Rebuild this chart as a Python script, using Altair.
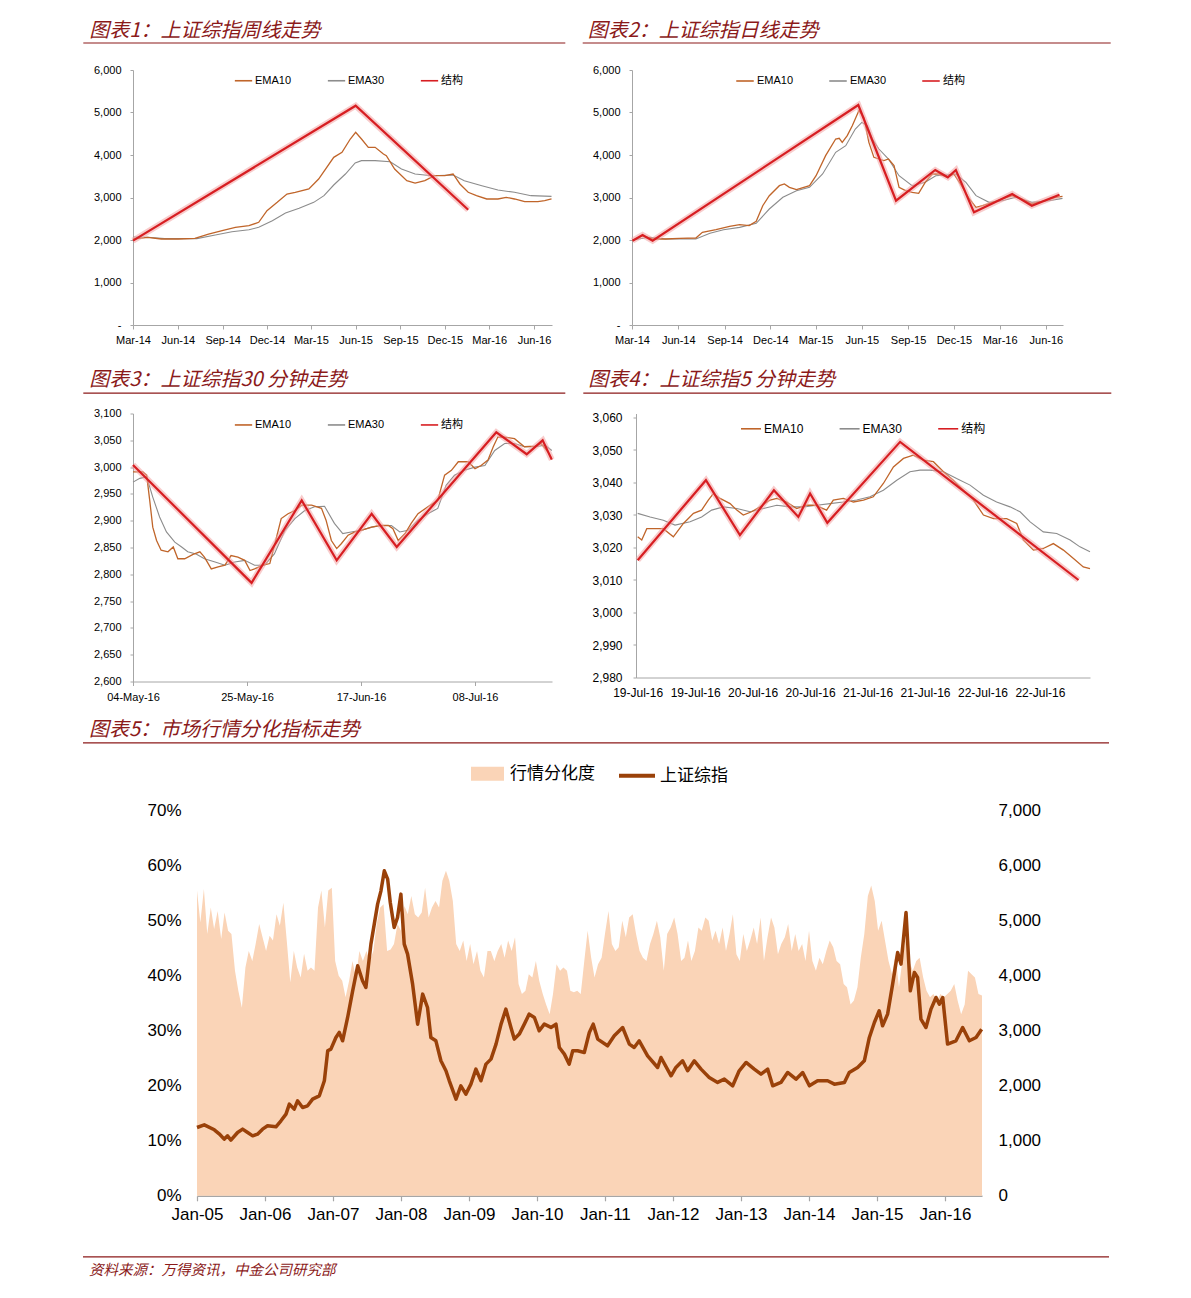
import altair as alt
import pandas as pd

FONT = "Liberation Sans, Arial, 'Noto Sans CJK SC', sans-serif"
CJK = "'Noto Sans CJK SC', sans-serif"
TITLE_COLOR = "#8B1A1A"
C_EMA10 = "#C0652A"
C_EMA30 = "#8C8C8C"
C_STRUCT = "#D71E22"
AX = "#A6A6A6"
SERIES = ["EMA10", "EMA30", "结构"]

titles = ["图表1：上证综指周线走势", "图表2：上证综指日线走势", "图表3：上证综指30 分钟走势",
          "图表4：上证综指5 分钟走势", "图表5：市场行情分化指标走势"]
source_text = "资料来源：万得资讯，中金公司研究部"

# ---------------- Panel 1 (weekly) ----------------
p1_e10_d = ["2014-03-01", "2014-03-31", "2014-04-28", "2014-06-02", "2014-07-06", "2014-08-03", "2014-08-31",
            "2014-09-27", "2014-10-25", "2014-11-14", "2014-12-01", "2014-12-22", "2015-01-11", "2015-01-28",
            "2015-02-25", "2015-03-17", "2015-04-17", "2015-05-04", "2015-05-21", "2015-06-01", "2015-06-13",
            "2015-06-27", "2015-07-11", "2015-07-28", "2015-08-03", "2015-08-20", "2015-09-14", "2015-10-01",
            "2015-10-21", "2015-11-10", "2015-12-01", "2015-12-18", "2016-01-01", "2016-01-18", "2016-02-04",
            "2016-02-25", "2016-03-19", "2016-04-05", "2016-04-22", "2016-05-13", "2016-06-09", "2016-06-23",
            "2016-07-07"]
p1_e10_v = [2024, 2063, 2024, 2024, 2040, 2141, 2220, 2298, 2337, 2416, 2690, 2886, 3082, 3122, 3200, 3435, 3945,
            4063, 4376, 4533, 4376, 4180, 4180, 4024, 3985, 3671, 3396, 3341, 3396, 3513, 3513, 3553, 3318, 3122,
            3043, 2965, 2965, 3004, 2965, 2902, 2902, 2925, 2965]
p1_e30_d = ["2014-03-01", "2014-03-31", "2014-05-05", "2014-06-09", "2014-07-10", "2014-08-17", "2014-09-20",
            "2014-10-25", "2014-11-14", "2014-12-12", "2015-01-08", "2015-02-05", "2015-03-07", "2015-03-28",
            "2015-04-17", "2015-05-11", "2015-05-31", "2015-06-13", "2015-07-11", "2015-08-11", "2015-09-03",
            "2015-10-01", "2015-11-04", "2015-12-18", "2016-01-10", "2016-02-15", "2016-03-19", "2016-04-22",
            "2016-05-26", "2016-07-07"]
p1_e30_v = [2071, 2063, 2032, 2032, 2032, 2118, 2196, 2243, 2298, 2455, 2635, 2745, 2886, 3043, 3294, 3553, 3812,
            3867, 3867, 3843, 3671, 3553, 3513, 3529, 3396, 3278, 3176, 3122, 3043, 3027]
p1_st_d = ["2014-03-01", "2015-06-01", "2016-01-18"]
p1_st_v = [1984, 5160, 2713]

# ---------------- Panel 2 (daily) ----------------
p2_e10_d = ["2014-03-02", "2014-03-22", "2014-04-11", "2014-05-07", "2014-06-03", "2014-07-06", "2014-07-19",
            "2014-08-15", "2014-09-11", "2014-10-01", "2014-10-20", "2014-11-03", "2014-11-16", "2014-11-29",
            "2014-12-19", "2014-12-29", "2015-01-08", "2015-01-22", "2015-02-17", "2015-03-02", "2015-03-21",
            "2015-04-10", "2015-04-17", "2015-04-23", "2015-05-03", "2015-05-13", "2015-05-26", "2015-06-05",
            "2015-06-15", "2015-06-25", "2015-07-05", "2015-07-15", "2015-07-24", "2015-08-04", "2015-08-14",
            "2015-08-27", "2015-09-09", "2015-09-22", "2015-10-05", "2015-10-19", "2015-11-01", "2015-11-18",
            "2015-12-01", "2015-12-14", "2016-01-01", "2016-01-14", "2016-01-27", "2016-02-16", "2016-03-06",
            "2016-03-26", "2016-04-15", "2016-05-04", "2016-05-31", "2016-06-20", "2016-07-04"]
p2_e10_v = [1984, 2102, 2024, 2024, 2040, 2047, 2180, 2243, 2322, 2361, 2337, 2439, 2807, 3043, 3278, 3318,
            3239, 3184, 3278, 3513, 3984, 4376, 4392, 4298, 4455, 4690, 5043, 4886, 4298, 3945, 3906, 3867, 3906,
            3749, 3239, 3161, 3122, 3098, 3357, 3553, 3553, 3475, 3553, 3318,
            2965, 2769, 2808, 2886, 2965, 3043, 2965, 2847, 2925, 3004, 3027]
p2_e30_d = ["2014-03-02", "2014-04-04", "2014-05-07", "2014-06-10", "2014-07-06", "2014-08-03", "2014-08-30",
            "2014-10-01", "2014-11-03", "2014-11-29", "2014-12-26", "2015-01-22", "2015-02-17", "2015-03-15",
            "2015-04-10", "2015-04-30", "2015-05-19", "2015-06-01", "2015-06-12", "2015-06-22", "2015-07-05",
            "2015-07-24", "2015-08-14", "2015-09-09", "2015-10-05", "2015-10-26", "2015-11-15", "2015-12-05",
            "2015-12-25", "2016-01-14", "2016-02-09", "2016-03-06", "2016-04-02", "2016-05-04", "2016-06-07",
            "2016-07-04"]
p2_e30_v = [2000, 2063, 2024, 2024, 2024, 2157, 2243, 2298, 2392, 2729, 3004, 3161, 3239, 3553, 4063, 4220, 4612,
            4768, 4690, 4376, 4141, 3906, 3513, 3278, 3357, 3513, 3529, 3553, 3357, 3043, 2886, 2925, 3004, 2886,
            2925, 2980]
p2_st_d = ["2014-03-02", "2014-03-22", "2014-04-11", "2015-05-25", "2015-08-08", "2015-10-25", "2015-11-19",
           "2015-12-05", "2016-01-10", "2016-03-26", "2016-05-04", "2016-06-28"]
p2_st_v = [1984, 2118, 1984, 5176, 2925, 3647, 3475, 3647, 2651, 3082, 2808, 3066]

# ---------------- Panel 3 (30-minute, x = trading day number) ----------------
p3_labels = ["04-May-16", "25-May-16", "17-Jun-16", "08-Jul-16"]
p3_st_d = [0, 15.6, 22.2, 26.8, 31.4, 34.7, 47.8, 51.8, 53.9, 55.1]
p3_st_v = [3004, 2784, 2938, 2826, 2913, 2851, 3065, 3024, 3050, 3014]
p3_e10_d = [0, 1.3, 1.8, 2.2, 2.6, 3.1, 3.7, 4.6, 5.3, 5.9, 6.8, 7.9, 8.8, 9.4, 10.3, 11.2, 12.1, 12.9, 13.8, 14.7,
            15.4, 16.0, 17.1, 18.0, 18.9, 19.5, 20.4, 21.3, 22.2, 23.5, 24.8, 25.4, 26.1, 26.8, 27.4, 28.3, 29.2,
            30.0, 31.4, 32.5, 33.6, 34.2, 34.9, 35.8, 36.6, 37.5, 38.8, 40.1, 41.0, 41.9, 42.8, 44.1, 45.0, 45.8,
            46.7, 47.4, 48.0, 48.9, 50.2, 51.5, 52.9, 53.7, 54.6, 55.1]
p3_e10_v = [2991, 2991, 2985, 2938, 2888, 2863, 2845, 2842, 2851, 2829, 2829, 2837, 2842, 2832, 2810, 2814, 2817,
            2835, 2832, 2826, 2807, 2810, 2817, 2820, 2870, 2904, 2913, 2919, 2929, 2929, 2923, 2901, 2863, 2848,
            2857, 2873, 2879, 2882, 2888, 2891, 2891, 2885, 2863, 2876, 2895, 2913, 2926, 2938, 2985, 2994, 3010,
            3010, 2997, 3003, 3013, 3038, 3056, 3056, 3053, 3038, 3039, 3044, 3028, 3016]
p3_e30_d = [0, 0.9, 1.8, 2.6, 3.5, 4.4, 5.5, 6.4, 7.2, 8.3, 9.4, 10.8, 12.1, 13.4, 14.7, 16.0, 17.3, 18.6, 20.0,
            21.3, 22.6, 23.9, 25.2, 26.5, 27.6, 28.7, 30.0, 31.4, 32.7, 34.0, 35.1, 36.2, 37.5, 38.8, 40.1, 41.2,
            42.3, 43.6, 45.0, 46.3, 47.6, 48.9, 50.2, 51.5, 52.9, 54.2, 55.1]
p3_e30_v = [2972, 2979, 2982, 2944, 2907, 2879, 2860, 2851, 2842, 2838, 2829, 2823, 2817, 2823, 2826, 2817, 2817,
            2838, 2882, 2904, 2919, 2926, 2927, 2895, 2876, 2879, 2882, 2888, 2891, 2891, 2879, 2882, 2901, 2913,
            2923, 2966, 2985, 2994, 3000, 3003, 3031, 3044, 3044, 3038, 3038, 3041, 3031]

# ---------------- Panel 4 (5-minute, x = bar number) ----------------
p4_st_b = [0, 28.5, 42.7, 56.9, 67.1, 72.0, 79.2, 109.6, 184.1]
p4_st_v = [3016.1, 3040.7, 3023.8, 3037.6, 3029.4, 3036.6, 3027.6, 3052.5, 3010.0]
p4_e10_b = [0, 1.7, 3.8, 7.2, 10.7, 14.9, 19.1, 23.3, 26.7, 29.5, 31.6, 34.4, 38.6, 41.4, 44.1, 47.6, 51.1, 55.3,
            58.1, 62.2, 66.4, 70.6, 74.1, 78.9, 81.7, 85.9, 90.1, 94.3, 98.4, 102.6, 106.8, 111.0, 115.1, 119.3,
            123.5, 127.7, 131.8, 136.0, 140.2, 144.4, 148.6, 154.1, 158.3, 161.1, 165.3, 169.4, 173.6, 177.8,
            182.0, 186.1, 188.9]
p4_e10_v = [3023.3, 3022.3, 3025.8, 3025.8, 3025.8, 3023.3, 3027.4, 3030.5, 3031.5, 3034.6, 3036.6, 3035.1,
            3033.5, 3031.5, 3030.0, 3031.0, 3032.5, 3034.6, 3035.1, 3034.0, 3032.0, 3033.0, 3033.0, 3031.5,
            3034.6, 3035.1, 3034.0, 3034.6, 3035.6, 3039.7, 3044.8, 3047.4, 3048.4, 3046.9, 3046.4, 3043.3,
            3040.7, 3037.6, 3034.6, 3030.0, 3028.9, 3028.9, 3027.4, 3022.3, 3019.2, 3019.7, 3021.2, 3019.2,
            3016.6, 3014.0, 3013.5]
p4_e30_b = [0, 5.2, 10.7, 15.6, 21.9, 26.7, 30.9, 35.8, 41.4, 46.9, 52.5, 58.1, 63.6, 69.2, 74.8, 80.3, 85.9,
            91.5, 97.0, 102.6, 108.2, 113.7, 117.9, 122.1, 127.7, 133.2, 138.8, 144.4, 149.9, 155.5, 159.7, 163.9,
            169.4, 175.0, 180.6, 184.7, 188.9]
p4_e30_v = [3030.5, 3029.4, 3028.4, 3026.9, 3027.9, 3029.4, 3031.5, 3032.5, 3032.0, 3031.0, 3032.0, 3033.0,
            3032.5, 3032.5, 3033.0, 3033.5, 3034.0, 3034.6, 3035.6, 3037.6, 3040.7, 3043.3, 3043.8, 3043.8,
            3043.3, 3041.2, 3039.2, 3036.1, 3034.0, 3032.5, 3031.0, 3027.9, 3024.8, 3024.3, 3022.3, 3020.2,
            3018.7]

# ---------------- Panel 5 ----------------
div_v = [55.5, 49.7, 55.8, 47.6, 52.4, 48.5, 51.8, 46.7, 51.5, 48.2,
         47.6, 40.9, 37.3, 34.2, 41.5, 44.5, 42.7, 45.8, 49.4, 47,
         44.5, 47.3, 46.4, 51.2, 49.1, 53.3, 46.4, 38.8, 44.5, 41.5,
         39.7, 44, 40.9, 41.5, 40.9, 52.4, 55.5, 48.8, 55.5, 56,
         42.7, 40, 39.1, 36.1, 39.1, 42.7, 39.7, 44.5, 42.7, 44.5,
         42.7, 44.5, 49.4, 52.4, 53, 44.5, 44.8, 45.8, 49.4, 48.2,
         52.7, 51.2, 54.5, 51.2, 50.6, 51.5, 56, 50.6, 52.4, 53.6,
         52.4, 57.3, 59.1, 57.3, 53.6, 45.8, 44.5, 46.4, 42.7, 45.8,
         42.1, 44.5, 40.9, 39.7, 44.5, 44.5, 42.7, 44.5, 45.8, 43.3,
         46.4, 44.5, 47, 38.5, 36.7, 37.3, 40.3, 39.7, 42.7, 39.1,
         36.7, 34.8, 33, 36.7, 42.1, 40.9, 41.5, 40.9, 37.3, 37,
         37.3,
         36.7, 42.7, 48.2, 43.3, 39.7, 42.1, 43.3, 47.6, 51.8, 45.8,
         44.5, 45.2, 50, 47, 50.6, 51.2, 47.6, 44.5, 43.3, 42.7,
         45.8, 47.6, 50, 47, 40.9, 47.6, 48.8, 50.6, 47.6, 42.7,
         43.3, 46.4, 42.7, 44.5, 48.8, 48.2, 50.6, 50, 46.4, 48.2,
         45.8, 48.8, 44.5, 47.6, 51.2, 43.9, 42.7, 47.6, 44.5, 46.4,
         48.8, 45.8, 50.6, 42.7, 47, 50.6, 48.8, 43.9, 45.8, 47,
         49.4, 44.5, 47.6, 44.5, 45.8, 42.7, 48.2, 42.7, 40.9, 43.3,
         42.1, 44.5, 46.4, 45.2, 42.7, 42.1, 38.5, 37.9, 34.8, 35.5,
         37.9, 43.3, 47.6, 54.5, 56.4, 53.6, 48.2, 50, 46.4, 42.7,
         40.3, 43.9, 37.9, 42.7, 47, 42.7, 40.9, 42.7, 43.3, 39.7,
         37.3, 36.1, 36.7, 35.5, 36.7, 36.1, 36.7, 37.3, 38.5, 35.5,
         33, 34.8, 40.9, 40.3, 39.7, 36.7, 36.4]
div_start, div_end = "2005-01-01", "2016-07-18"

idx_t = [2005.0, 2005.108, 2005.255, 2005.328, 2005.402, 2005.451, 2005.5, 2005.598, 2005.672, 2005.745,
         2005.819, 2005.892, 2005.966, 2006.039, 2006.162, 2006.235, 2006.309, 2006.358, 2006.431, 2006.48,
         2006.554, 2006.627, 2006.701, 2006.799, 2006.873, 2006.922, 2006.971, 2007.044, 2007.093, 2007.142,
         2007.216, 2007.289, 2007.363, 2007.436, 2007.485, 2007.559, 2007.608, 2007.657, 2007.706, 2007.755,
         2007.804, 2007.843, 2007.902, 2007.951, 2008.0, 2008.049, 2008.098, 2008.171, 2008.245, 2008.319,
         2008.392, 2008.441, 2008.515, 2008.588, 2008.662, 2008.711, 2008.809, 2008.882, 2008.956, 2009.029,
         2009.103, 2009.176, 2009.25, 2009.324, 2009.397, 2009.471, 2009.544, 2009.618, 2009.667, 2009.74,
         2009.814, 2009.887, 2009.961, 2010.034, 2010.108, 2010.206, 2010.279, 2010.328, 2010.402, 2010.475,
         2010.525, 2010.598, 2010.696,
         2010.77, 2010.828, 2010.892, 2011.039, 2011.137, 2011.26, 2011.358, 2011.431, 2011.505, 2011.627,
         2011.775, 2011.824, 2011.971, 2012.044, 2012.142, 2012.216, 2012.314, 2012.412, 2012.534, 2012.657,
         2012.755, 2012.877, 2012.975, 2013.074, 2013.196, 2013.294, 2013.392, 2013.466, 2013.588, 2013.686,
         2013.809, 2013.907, 2014.005, 2014.127, 2014.275, 2014.373, 2014.52, 2014.593, 2014.716, 2014.814,
         2014.887, 2014.961, 2015.034, 2015.083, 2015.157, 2015.23, 2015.304, 2015.353, 2015.426, 2015.49,
         2015.549, 2015.598, 2015.647, 2015.721, 2015.794, 2015.868, 2015.917, 2015.966, 2016.039, 2016.162,
         2016.26, 2016.358, 2016.456, 2016.539]
idx_v = [1242, 1290, 1200, 1127, 1030, 1090, 1012, 1151, 1212, 1151, 1090, 1121, 1212, 1273, 1255, 1364, 1485,
         1667, 1576, 1727, 1606, 1636, 1758, 1818, 2091, 2636, 2667, 2879, 2970, 2818, 3242, 3727, 4182, 3909,
         3788, 4576, 4939, 5303, 5545, 5909, 5758, 5333, 4879, 5060, 5485, 4576, 4394, 3848, 3121, 3667, 3424,
         2879, 2818, 2455, 2273, 2091, 1758, 2000, 1848, 2030, 2303, 2091, 2394, 2485, 2758, 3121, 3394, 3061,
         2849, 2940, 3121, 3303, 3242, 3000, 3121, 3061, 3121, 2697, 2576, 2394, 2636, 2636, 2606,
         2970, 3121, 2849, 2727, 2909, 3060, 2758, 2697, 2818, 2545, 2333, 2515, 2182, 2333, 2454, 2273, 2454,
         2303, 2152, 2061, 2121, 2000, 2273, 2424, 2303, 2212, 2303, 2000, 2061, 2242, 2121, 2242, 2000, 2091,
         2091, 2030, 2061, 2242, 2333, 2454, 2879, 3151, 3364, 3091, 3303, 3848, 4424, 4212, 5151, 3727, 4061,
         3970, 3212, 3060, 3394, 3606, 3485, 3606, 2758, 2818, 3060, 2818, 2879, 3030]


def lines_df(dates, vals, name):
    n = min(len(dates), len(vals))
    return pd.DataFrame({"x": list(dates)[:n], "v": list(vals)[:n], "s": name})


def color_enc(leg):
    return alt.Color("s:N", scale=alt.Scale(domain=SERIES, range=[C_EMA10, C_EMA30, C_STRUCT]),
                     legend=alt.Legend(**leg))


def header_layers(title, tx, ty, ux1, ux2, uy):
    t = alt.Chart(pd.DataFrame({"t": [title]})).mark_text(
        align="left", baseline="middle", fontSize=20, fontStyle="italic", font=CJK, color=TITLE_COLOR
    ).encode(x=alt.value(tx), y=alt.value(ty), text="t:N")
    u = alt.Chart(pd.DataFrame({"a": [0]})).mark_rule(color=TITLE_COLOR, strokeWidth=1.2).encode(
        x=alt.value(ux1), x2=alt.value(ux2), y=alt.value(uy))
    return [t, u]


def make_panel(e10, e30, st, X, Y, leg, width, height, hdr):
    col = color_enc(leg)
    l30 = alt.Chart(e30).mark_line(strokeWidth=1.1).encode(X, Y, col)
    l10 = alt.Chart(e10).mark_line(strokeWidth=1.3).encode(X, Y, col)
    glow = alt.Chart(st).mark_line(strokeWidth=6, color="#F2A2A2", opacity=0.55).encode(X, Y)
    lst = alt.Chart(st).mark_line(strokeWidth=2.2).encode(X, Y, col)
    return alt.layer(l30, l10, glow, lst, *header_layers(*hdr)).properties(width=width, height=height)


def leg_props(x, y, fs, sym, pad):
    return dict(orient="none", legendX=x, legendY=y, direction="horizontal", title=None, symbolType="stroke",
                symbolSize=sym * sym, symbolStrokeWidth=1.6, labelFontSize=fs, labelFont=FONT,
                labelColor="#000000", columnPadding=pad, labelOffset=2, padding=0)


def ydaily_axis(fs, pad):
    return dict(labelFontSize=fs, labelFont=FONT, labelColor="#000000", labelPadding=pad, tickSize=3,
                tickColor=AX, domainColor=AX, grid=False, title=None)


def time_x(start, end, fs):
    vals = []
    y, m = 2014, 3
    while (y, m) <= (2016, 6):
        vals.append(alt.DateTime(year=y, month=m, date=1, utc=True))
        m += 3
        if m > 12:
            m -= 12
            y += 1
    return alt.X("x:T", scale=alt.Scale(type="utc", domain=[start, end]),
                 axis=alt.Axis(values=vals, labelExpr="utcFormat(datum.value, '%b-%y')", labelFontSize=fs,
                               labelFont=FONT, labelColor="#000000", tickSize=4, labelPadding=5,
                               tickColor=AX, domainColor=AX, grid=False, title=None, labelFlush=False))


Y12 = alt.Y("v:Q", scale=alt.Scale(domain=[0, 6000], nice=False),
            axis=alt.Axis(values=list(range(0, 6001, 1000)),
                          labelExpr="datum.value == 0 ? '-' : format(datum.value, ',')", **ydaily_axis(11, 9)))

X1 = time_x(alt.DateTime(year=2014, month=3, date=1, utc=True), alt.DateTime(year=2016, month=7, date=8, utc=True), 11)
X2 = time_x(alt.DateTime(year=2014, month=3, date=1, utc=True), alt.DateTime(year=2016, month=7, date=5, utc=True), 11)

p1 = make_panel(lines_df(p1_e10_d, p1_e10_v, "EMA10"), lines_df(p1_e30_d, p1_e30_v, "EMA30"),
                lines_df(p1_st_d, p1_st_v, "结构"), X1, Y12, leg_props(101, 1, 11, 17.3, 32), 419, 255,
                (titles[0], -43.7, -39.5, -49.7, 432.3, -27))
p2 = make_panel(lines_df(p2_e10_d, p2_e10_v, "EMA10"), lines_df(p2_e30_d, p2_e30_v, "EMA30"),
                lines_df(p2_st_d, p2_st_v, "结构"), X2, Y12, leg_props(103, 1, 11, 17.5, 32), 431, 255,
                (titles[1], -44.3, -39.5, -49.3, 478.7, -27))

lab3 = " : ".join([f"datum.value == {i * 15} ? '{l}'" for i, l in enumerate(p3_labels)]) + " : ''"
X3 = alt.X("x:Q", scale=alt.Scale(domain=[0, 55.13], nice=False, zero=False),
           axis=alt.Axis(values=[0, 15, 30, 45], labelExpr=lab3, labelFontSize=11, labelFont=FONT,
                         labelColor="#000000", tickSize=4, labelPadding=6, tickColor=AX, domainColor=AX,
                         grid=False, title=None, labelFlush=False))
Y3 = alt.Y("v:Q", scale=alt.Scale(domain=[2600, 3100], nice=False, zero=False),
           axis=alt.Axis(values=list(range(2600, 3101, 50)), labelExpr="format(datum.value, ',')",
                         **ydaily_axis(11, 9)))
p3 = make_panel(lines_df(p3_e10_d, p3_e10_v, "EMA10"), lines_df(p3_e30_d, p3_e30_v, "EMA30"),
                lines_df(p3_st_d, p3_st_v, "结构"), X3, Y3, leg_props(101, 1.7, 11, 17.3, 32), 419, 268,
                (titles[2], -43.7, -33.8, -49.7, 432.3, -20.3))

# panel 4: plot area starts at the same top as panel 3 (3.25 px per index point)
X4 = alt.X("x:Q", scale=alt.Scale(domain=[-0.7, 188.9], nice=False, zero=False),
           axis=alt.Axis(values=list(range(0, 169, 24)),
                         labelExpr="(19 + floor(datum.value / 48)) + '-Jul-16'", labelFontSize=12,
                         labelFont=FONT, labelColor="#000000", ticks=False, labelPadding=10,
                         domainColor=AX, grid=False, title=None, labelFlush=False))
Y4 = alt.Y("v:Q", scale=alt.Scale(domain=[2980, 3060 + 4 / 3.25], nice=False, zero=False),
           axis=alt.Axis(values=list(range(2980, 3061, 10)), labelExpr="format(datum.value, ',')",
                         **ydaily_axis(12, 11)))
p4 = make_panel(lines_df(p4_e10_b, p4_e10_v, "EMA10"), lines_df(p4_e30_b, p4_e30_v, "EMA30"),
                lines_df(p4_st_b, p4_st_v, "结构"), X4, Y4, leg_props(104, 4.3, 12, 20, 31.6), 454, 264,
                (titles[3], -47.7, -33.8, -52.7, 475.3, -20.3))

div_dates = pd.date_range(div_start, div_end, periods=len(div_v)).strftime("%Y-%m-%d")
df_div = pd.DataFrame({"x": div_dates, "v": [d / 100 for d in div_v], "s": "行情分化度"})
idx_dates = [(pd.Timestamp("2005-01-01") + pd.Timedelta(days=(t - 2005) * 365.25)).strftime("%Y-%m-%d")
             for t in idx_t]
df_idx = pd.DataFrame({"x": idx_dates, "v": idx_v, "s": "上证综指"})

X5 = alt.X("x:T", scale=alt.Scale(type="utc", domain=[alt.DateTime(year=2005, month=1, date=1, utc=True),
                                                      alt.DateTime(year=2016, month=7, date=18, utc=True)]),
           axis=alt.Axis(values=[alt.DateTime(year=y, month=1, date=1, utc=True) for y in range(2005, 2017)],
                         labelExpr="utcFormat(datum.value, '%b-%y')", labelFontSize=17, labelFont=FONT,
                         labelColor="#000000", tickSize=5, tickColor=AX, domainColor=AX, domainWidth=1.5,
                         tickWidth=1.2, labelPadding=6, grid=False, title=None, labelFlush=False))
area = alt.Chart(df_div).mark_area(opacity=1).encode(
    X5,
    alt.Y("v:Q", scale=alt.Scale(domain=[0, 0.7], nice=False),
          axis=alt.Axis(values=[round(0.1 * i, 1) for i in range(8)], format=".0%", labelFontSize=17,
                        labelFont=FONT, labelColor="#000000", ticks=False, domain=False, labelPadding=16,
                        grid=False, title=None)),
    alt.Fill("s:N", scale=alt.Scale(domain=["行情分化度"], range=["#FAD4B7"]),
             legend=alt.Legend(orient="none", legendX=274, legendY=-53.5, title=None,
                               symbolType="M-1,-0.42L1,-0.42L1,0.42L-1,0.42Z", symbolSize=1089,
                               symbolStrokeWidth=0, labelFontSize=17, labelFont=CJK, labelColor="#000000",
                               labelOffset=6, padding=0)),
)
line = alt.Chart(df_idx).mark_line(strokeWidth=3.5, strokeJoin="round").encode(
    X5,
    alt.Y("v:Q", scale=alt.Scale(domain=[0, 7000], nice=False),
          axis=alt.Axis(orient="right", values=list(range(0, 7001, 1000)),
                        labelExpr="format(datum.value, ',')", labelFontSize=17,
                        labelFont=FONT, labelColor="#000000", ticks=False, domain=False, labelPadding=16,
                        grid=False, title=None)),
    alt.Stroke("s:N", scale=alt.Scale(domain=["上证综指"], range=["#9A4109"]),
               legend=alt.Legend(orient="none", legendX=420, legendY=-55, title=None, symbolType="stroke",
                                 symbolSize=1296, symbolStrokeWidth=4, labelFontSize=17, labelFont=CJK,
                                 labelColor="#000000", labelOffset=3, padding=0)),
)
src_t = alt.Chart(pd.DataFrame({"t": [source_text]})).mark_text(
    align="left", baseline="middle", fontSize=14.5, fontStyle="italic", font=CJK, color=TITLE_COLOR
).encode(x=alt.value(-108), y=alt.value(460), text="t:N")
src_u = alt.Chart(pd.DataFrame({"a": [0]})).mark_rule(color=TITLE_COLOR, strokeWidth=1.2).encode(
    x=alt.value(-114), x2=alt.value(912), y=alt.value(446))
p5 = alt.layer(area, line, *header_layers(titles[4], -108, -80.5, -114, 912, -68), src_t, src_u).resolve_scale(
    y="independent").properties(width=785, height=385)


def spacer():
    return alt.Chart(pd.DataFrame({"a": [0]})).mark_rule(strokeWidth=0, opacity=0).encode(
        x=alt.value(0), x2=alt.value(1), y=alt.value(0)).properties(width=1, height=1)


IND = dict(color="independent")
IND5 = dict(color="independent", fill="independent", stroke="independent")
row12 = alt.hconcat(spacer(), p1, p2, spacing=16).resolve_scale(**IND).resolve_legend(**IND)
row34 = alt.hconcat(spacer(), p3, p4, spacing=16).resolve_scale(**IND).resolve_legend(**IND)
row5 = alt.hconcat(spacer(), p5, spacing=16).resolve_scale(**IND5).resolve_legend(**IND5)
top = alt.vconcat(row12, row34, spacing=24.5).resolve_scale(**IND).resolve_legend(**IND)
chart = alt.vconcat(top, row5, spacing=16.8).resolve_scale(**IND5).resolve_legend(**IND5).properties(
    padding={"left": 57, "top": 12, "right": 5, "bottom": 5}
).configure_view(strokeWidth=0).configure_legend(labelFont=FONT)

chart.save("out.html", embed_options={"renderer": "svg", "actions": False})
